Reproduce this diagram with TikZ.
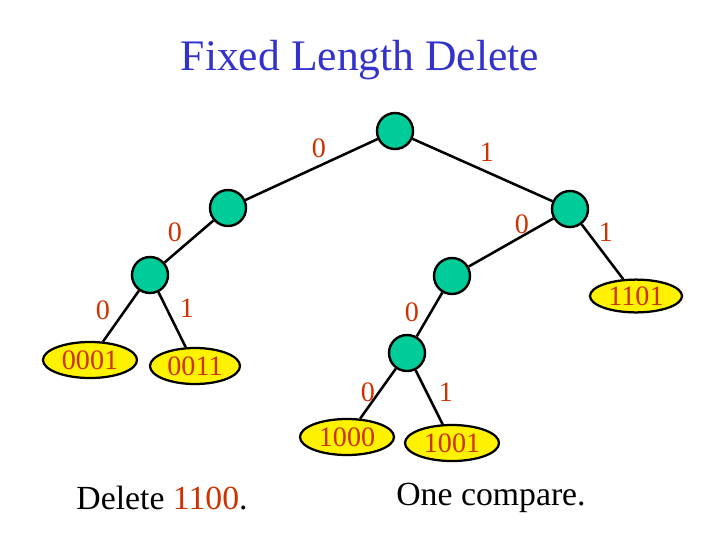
\documentclass[tikz,border=0pt]{standalone}
\usepackage{fontspec}
\setmainfont{Liberation Serif}
\usepackage{xcolor}
\usetikzlibrary{shapes.geometric}
\definecolor{titleblue}{RGB}{51,51,204}
\definecolor{bitred}{RGB}{204,51,0}
\definecolor{nodegreen}{RGB}{0,204,153}

\begin{document}
\begin{tikzpicture}[x=0.025cm, y=-0.025cm,
    inner/.style={circle, draw=black, line width=1.7pt, fill=nodegreen, minimum size=0.9cm, inner sep=0pt},
    leaf/.style={ellipse, draw=black, line width=1.6pt, fill=yellow, minimum width=2.35cm, minimum height=0.9cm, inner sep=0pt, text=bitred, font=\fontsize{20}{20}\selectfont},
    bit/.style={text=bitred, font=\fontsize{20}{20}\selectfont},
    link/.style={draw=black, line width=1.8pt}]
        \useasboundingbox (0,0) rectangle (720,540);

        \node[text=titleblue, font=\fontsize{31}{31}\selectfont] (title) at (360,60) {Fixed Length Delete};

        % internal nodes
        \node[inner] (root) at (395,131) {};
        \node[inner] (n0) at (228,208) {};
        \node[inner] (n1) at (570,209) {};
        \node[inner] (n00) at (150,275) {};
        \node[inner] (n10) at (452,276) {};
        \node[inner] (n100) at (407,353) {};

        % leaves
        \node[leaf] (l0001) at (90,360) {0001};
        \node[leaf, minimum width=2.25cm] (l0011) at (195,366) {0011};
        \node[leaf, minimum width=2.3cm, minimum height=0.82cm] (l1101) at (636,296) {1101};
        \node[leaf] (l1000) at (347,437) {1000};
        \node[leaf] (l1001) at (452,443) {1001};

        % edges
        \draw[link] (root) -- (n0);
        \draw[link] (root) -- (n1);
        \draw[link] (n0) -- (n00);
        \draw[link] (n1) -- (n10);
        \draw[link] (n1) -- (l1101);
        \draw[link] (n00) -- (l0001);
        \draw[link] (n00) -- (l0011);
        \draw[link] (n10) -- (n100);
        \draw[link] (n100) -- (l1000);
        \draw[link] (n100) -- (l1001);

        % bit labels
        \node[bit] (b1) at (319,148) {0};
        \node[bit] (b2) at (487,152) {1};
        \node[bit] (b3) at (175,232) {0};
        \node[bit] (b4) at (522,224) {0};
        \node[bit] (b5) at (606,232) {1};
        \node[bit] (b6) at (103,310) {0};
        \node[bit] (b7) at (187,308) {1};
        \node[bit] (b8) at (412,312) {0};
        \node[bit] (b9) at (368,392) {0};
        \node[bit] (b10) at (446,392) {1};

        \node[font=\fontsize{24}{24}\selectfont] (del) at (162,498) {Delete \textcolor{bitred}{1100}.};
        \node[font=\fontsize{24}{24}\selectfont] (cmp) at (491,498) {One compare.};
\end{tikzpicture}
\end{document}
